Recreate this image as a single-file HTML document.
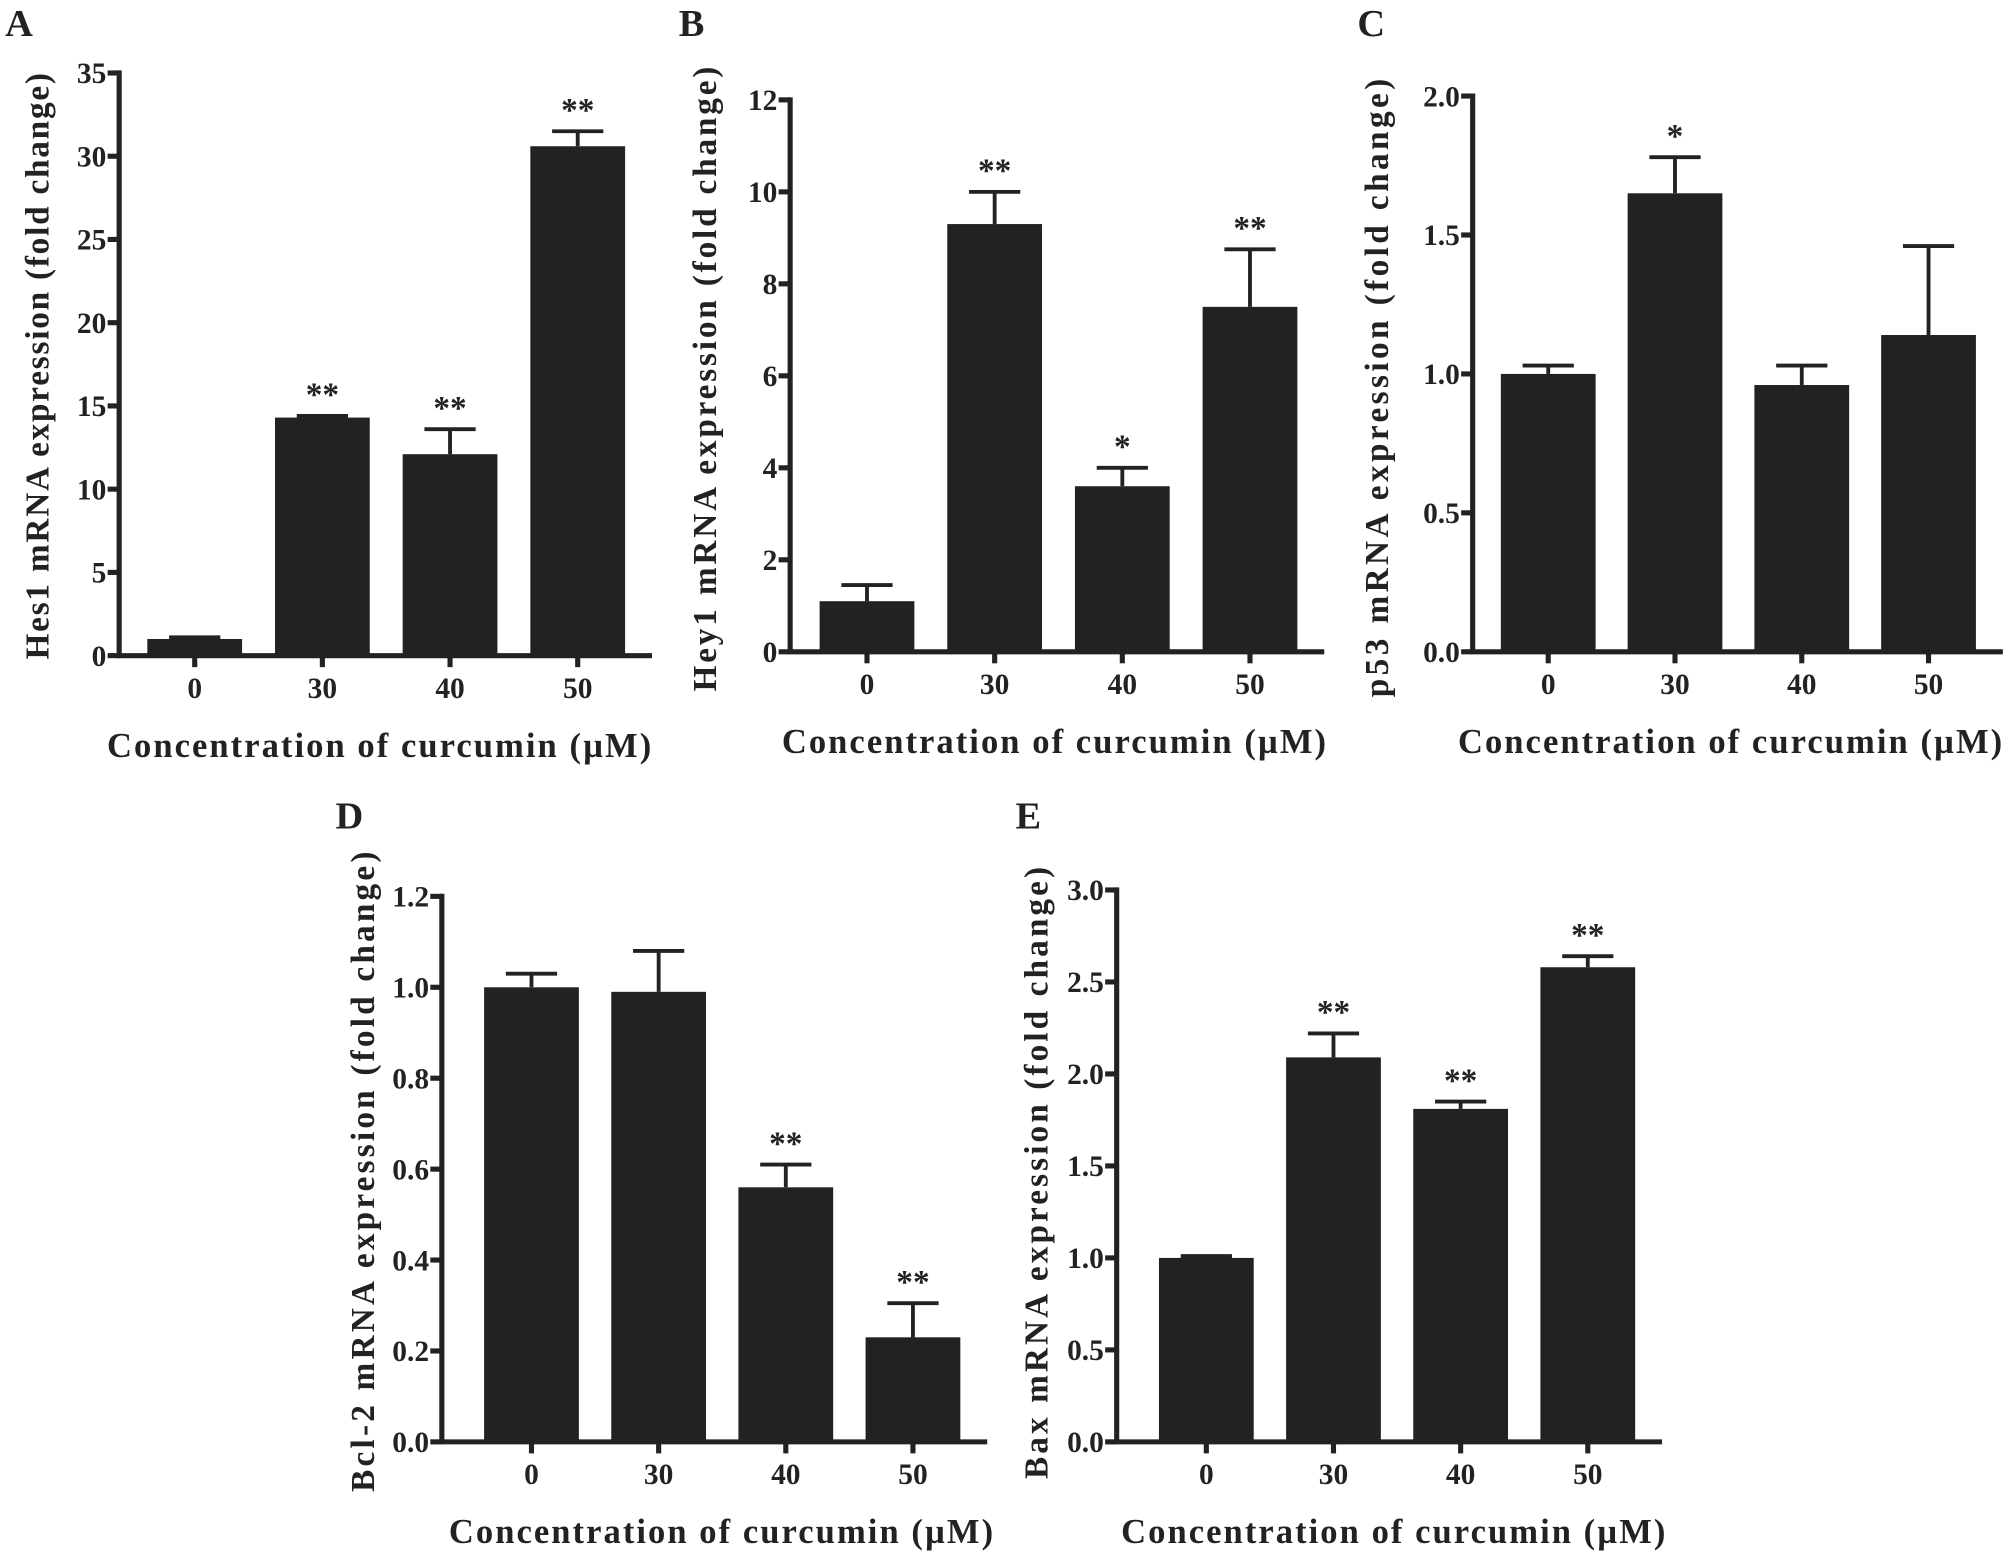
<!DOCTYPE html>
<html><head><meta charset="utf-8"><style>
html,body{margin:0;padding:0;background:#fff;}
svg{display:block;}
text{font-family:"Liberation Serif",serif;font-weight:bold;fill:#222;}
</style></head><body>
<svg id="fig" width="2008" height="1552" viewBox="0 0 1568 1212" xmlns="http://www.w3.org/2000/svg"></svg>
<script>
const categories = ["0","30","40","50"];
const hes1Values = [1.0, 14.3, 12.1, 30.6];
const hes1Errors = [0.1, 0.1, 1.5, 0.9];
const hes1Stars = ["", "**", "**", "**"];
const hes1Ticks = [0,5,10,15,20,25,30,35];
const hey1Values = [1.1, 9.3, 3.6, 7.5];
const hey1Errors = [0.35, 0.7, 0.4, 1.25];
const hey1Stars = ["", "**", "*", "**"];
const hey1Ticks = [0,2,4,6,8,10,12];
const p53Values = [1.0, 1.65, 0.96, 1.14];
const p53Errors = [0.03, 0.13, 0.07, 0.32];
const p53Stars = ["", "*", "", ""];
const p53Ticks = ["0.0","0.5","1.0","1.5","2.0"];
const bcl2Values = [1.0, 0.99, 0.56, 0.23];
const bcl2Errors = [0.03, 0.09, 0.05, 0.075];
const bcl2Stars = ["", "", "**", "**"];
const bcl2Ticks = ["0.0","0.2","0.4","0.6","0.8","1.0","1.2"];
const baxValues = [1.0, 2.09, 1.81, 2.58];
const baxErrors = [0.01, 0.13, 0.04, 0.06];
const baxStars = ["", "**", "**", "**"];
const baxTicks = ["0.0","0.5","1.0","1.5","2.0","2.5","3.0"];

const NS = "http://www.w3.org/2000/svg";
const svg = document.getElementById("fig");
function mk(tag, attrs, parent, txt){
  const e = document.createElementNS(NS, tag);
  for (const k in attrs) e.setAttribute(k, attrs[k]);
  if (txt !== undefined) e.textContent = txt;
  (parent || svg).appendChild(e);
  return e;
}
function panel(cfg, values, errors, stars, ticks){
  const g = mk("g", {});
  
  
  const max = parseFloat(ticks[ticks.length-1]);
  const y = v => cfg.y0 - (v / max) * (cfg.y0 - cfg.yTop);
  const x = i => cfg.x0 + cfg.first + i * cfg.step;
  const bw = 74;
  values.forEach((v, i) => {
    const r = mk("rect", {x: x(i) - bw/2, y: y(v), width: bw, height: cfg.y0 - y(v), fill: "#222"}, g);
    
    
    const top = y(v + errors[i]);
    const eb = mk("path", {d: `M${x(i)} ${y(v)} V${top} M${x(i)-20} ${top} H${x(i)+20}`, stroke: "#222", "stroke-width": 3, fill: "none"}, g);
    
    
    if (stars[i]) {
      const s = mk("text", {x: x(i), y: top - 8, "text-anchor": "middle", "font-size": 26}, g, stars[i]);
      
      
    }
    const tk = mk("line", {x1: x(i), x2: x(i), y1: cfg.y0, y2: cfg.y0 + 9, stroke: "#222", "stroke-width": 4}, g);
    
    
    const tl = mk("text", {x: x(i), y: cfg.y0 + 33, "text-anchor": "middle", "font-size": 23}, g, categories[i]);
    
    
  });
  ticks.forEach(t => {
    const v = parseFloat(t);
    const ln = mk("line", {x1: cfg.x0 - 9, x2: cfg.x0, y1: y(v), y2: y(v), stroke: "#222", "stroke-width": 4}, g);
    
    
    const lb = mk("text", {x: cfg.x0 - 10, y: y(v) + 8, "text-anchor": "end", "font-size": 23}, g, String(t));
    
    
  });
  const ax = mk("path", {d: `M${cfg.x0} ${cfg.yTop - 2} V${cfg.y0} H${x(3) + 58}`, stroke: "#222", "stroke-width": 4, fill: "none"}, g);
  
  
  const xt = mk("text", {x: cfg.xTitleX, y: cfg.y0 + 79, "text-anchor": "middle", "font-size": 27, textLength: 425, lengthAdjust: "spacing"}, g, "Concentration of curcumin (\u00b5M)");
  
  
  const cy = cfg.yTitleC;
  const yt = mk("text", {x: cfg.yTitleX, y: cy, "text-anchor": "middle", "font-size": 26, textLength: cfg.yLen, lengthAdjust: "spacing", transform: `rotate(-90 ${cfg.yTitleX} ${cy})`}, g, cfg.yTitle);
  
  
  const pl = mk("text", {x: cfg.lx, y: cfg.ly, "font-size": 30}, g, cfg.label);
  
  
}
panel({id:"hes1", x0:93, y0:512, yTop:57, first:59, step:99.7, xTitleX:296, yTitleX:38, yTitleC:286, yLen:458, yTitle:"Hes1 mRNA expression (fold change)", label:"A", lx:4, ly:28}, hes1Values, hes1Errors, hes1Stars, hes1Ticks);
panel({id:"hey1", x0:617, y0:509, yTop:78, first:60, step:99.7, xTitleX:823, yTitleX:559, yTitleC:296, yLen:488, yTitle:"Hey1 mRNA expression (fold change)", label:"B", lx:530, ly:28}, hey1Values, hey1Errors, hey1Stars, hey1Ticks);
panel({id:"p53", x0:1150, y0:509, yTop:75, first:59, step:99, xTitleX:1351, yTitleX:1084, yTitleC:303, yLen:483, yTitle:"p53 mRNA expression (fold change)", label:"C", lx:1060, ly:28}, p53Values, p53Errors, p53Stars, p53Ticks);
panel({id:"bcl2", x0:345, y0:1126, yTop:700, first:70, step:99.3, xTitleX:563, yTitleX:292, yTitleC:915, yLen:500, yTitle:"Bcl-2 mRNA expression (fold change)", label:"D", lx:262, ly:647}, bcl2Values, bcl2Errors, bcl2Stars, bcl2Ticks);
panel({id:"bax", x0:872, y0:1126, yTop:695, first:70, step:99.3, xTitleX:1088, yTitleX:818, yTitleC:916, yLen:478, yTitle:"Bax mRNA expression (fold change)", label:"E", lx:793, ly:647}, baxValues, baxErrors, baxStars, baxTicks);
</script>
</body></html>
